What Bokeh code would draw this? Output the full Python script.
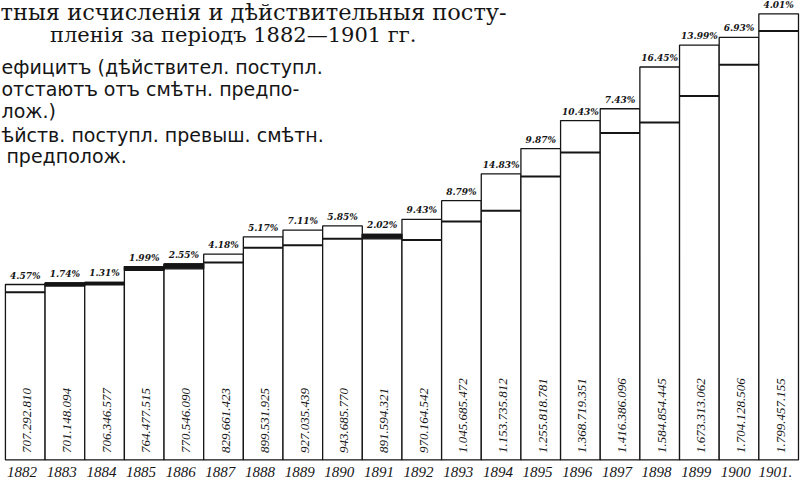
import math
from bokeh.plotting import figure
from bokeh.models import Range1d, ColumnDataSource
from bokeh.core.properties import value
from bokeh.embed import file_html
from bokeh.resources import INLINE

# ---- data ----
years = [1882, 1883, 1884, 1885, 1886, 1887, 1888, 1889, 1890, 1891,
         1892, 1893, 1894, 1895, 1896, 1897, 1898, 1899, 1900, 1901]
year_labels = ["1882", "1883", "1884", "1885", "1886", "1887", "1888", "1889", "1890", "1891",
               "1892", "1893", "1894", "1895", "1896", "1897", "1898", "1899", "1900", "1901."]
actual = [707292810, 701148094, 706346577, 764477515, 770546090, 829661423, 899531925,
          927035439, 943685770, 891594321, 970164542, 1045685472, 1153735812, 1255818781,
          1368719351, 1416386096, 1584854445, 1673313062, 1704128506, 1799457155]
pct = [4.57, 1.74, 1.31, 1.99, 2.55, 4.18, 5.17, 7.11, 5.85, 2.02,
       9.43, 8.79, 14.83, 9.87, 10.43, 7.43, 16.45, 13.99, 6.93, 4.01]
deficit_years = [1883, 1884, 1885, 1886, 1891]

title_lines = ["тныя исчисленія и дѣйствительныя посту-",
               "пленія за періодъ 1882—1901 гг."]
legend_lines = ["ефицитъ (дѣйствител. поступл.",
                "отстаютъ отъ смѣтн. предпо-",
                "лож.)",
                "ѣйств. поступл. превыш. смѣтн.",
                "предполож."]

# ---- layout ----
W, H = 800, 479
SX, SY = W / 808, H / 487
BAR_PX = 40.05 * SX
x_start = -(25 * SX) / BAR_PX
x_end = x_start + W / BAR_PX
A_C = 0.252e-6 * SY            # canvas px per rouble
base_c = 467 * SY
y_end = base_c / A_C
y_start = -(H - base_c) / A_C


def dx(rx):
    return x_start + rx * SX / BAR_PX


def dy(ry):
    return y_end - ry * SY / A_C


idx = list(range(len(years)))
is_def = [y in deficit_years for y in years]
estimate = [a * (1 + p / 100) if d else a / (1 + p / 100) for a, p, d in zip(actual, pct, is_def)]
top = [max(a, e) for a, e in zip(actual, estimate)]

p = figure(width=W, height=H, output_backend="svg", toolbar_location=None,
           x_range=Range1d(x_start, x_end), y_range=Range1d(y_start, y_end),
           min_border=0, outline_line_color=None, background_fill_color="white",
           border_fill_color="white")
p.axis.visible = False
p.grid.visible = False

INK = "#151515"

bars = ColumnDataSource(dict(left=[i - 0.5 for i in idx], right=[i + 0.5 for i in idx],
                             top=top, bottom=[0] * len(idx)))
p.quad(left="left", right="right", top="top", bottom="bottom", source=bars,
       fill_color="white", line_color=INK, line_width=1.3)

# deficit bands
di = [i for i in idx if is_def[i]]
p.quad(left=[i - 0.5 for i in di], right=[i + 0.5 for i in di],
       bottom=[actual[i] for i in di], top=[estimate[i] for i in di],
       fill_color=INK, line_color=INK, line_width=1.3)

# estimate lines in surplus years
si = [i for i in idx if not is_def[i]]
p.segment(x0=[i - 0.5 for i in si], x1=[i + 0.5 for i in si],
          y0=[estimate[i] for i in si], y1=[estimate[i] for i in si],
          line_color=INK, line_width=2)

# percentage labels above bars
pct_txt = ["%.2f%%" % v for v in pct]
p.text(x=idx, y=[t + 4 / A_C for t in top], text=pct_txt,
       text_font=value("DejaVu Serif"), text_font_style="bold italic", text_font_size="9px",
       text_align="center", text_baseline="bottom", text_color=INK)

# values inside bars (rotated)
def fmt(v):
    return "{:,}".format(v).replace(",", ".")

p.text(x=[i + 0.05 for i in idx], y=[dy(460)] * len(idx), text=[fmt(v) for v in actual],
       angle=math.pi / 2, text_font=value("Liberation Serif"), text_font_style="italic",
       text_font_size="13px", text_align="left", text_baseline="middle", text_color=INK)

# year labels
p.text(x=[i - 0.08 for i in idx], y=[dy(479)] * len(idx), text=year_labels,
       text_font=value("Liberation Serif"), text_font_style="italic", text_font_size="15px",
       text_align="center", text_baseline="middle", text_color=INK)

# title
p.text(x=[dx(0)], y=[dy(12)], text=[title_lines[0]], text_font=value("DejaVu Serif"),
       text_font_size="22.5px", text_align="left", text_baseline="middle", text_color=INK)
p.text(x=[dx(50)], y=[dy(35)], text=[title_lines[1]], text_font=value("DejaVu Serif"),
       text_font_size="21px", text_align="left", text_baseline="middle", text_color=INK)

# legend text
leg_y = [68, 90, 112, 137, 158]
leg_x = [1, 1, 1, 1, 6]
for t, lx, ly in zip(legend_lines, leg_x, leg_y):
    p.text(x=[dx(lx)], y=[dy(ly)], text=[t], text_font=value("DejaVu Sans"),
           text_font_size="19px", text_align="left", text_baseline="middle", text_color=INK)

open("out.html", "w").write(file_html(p, INLINE))
